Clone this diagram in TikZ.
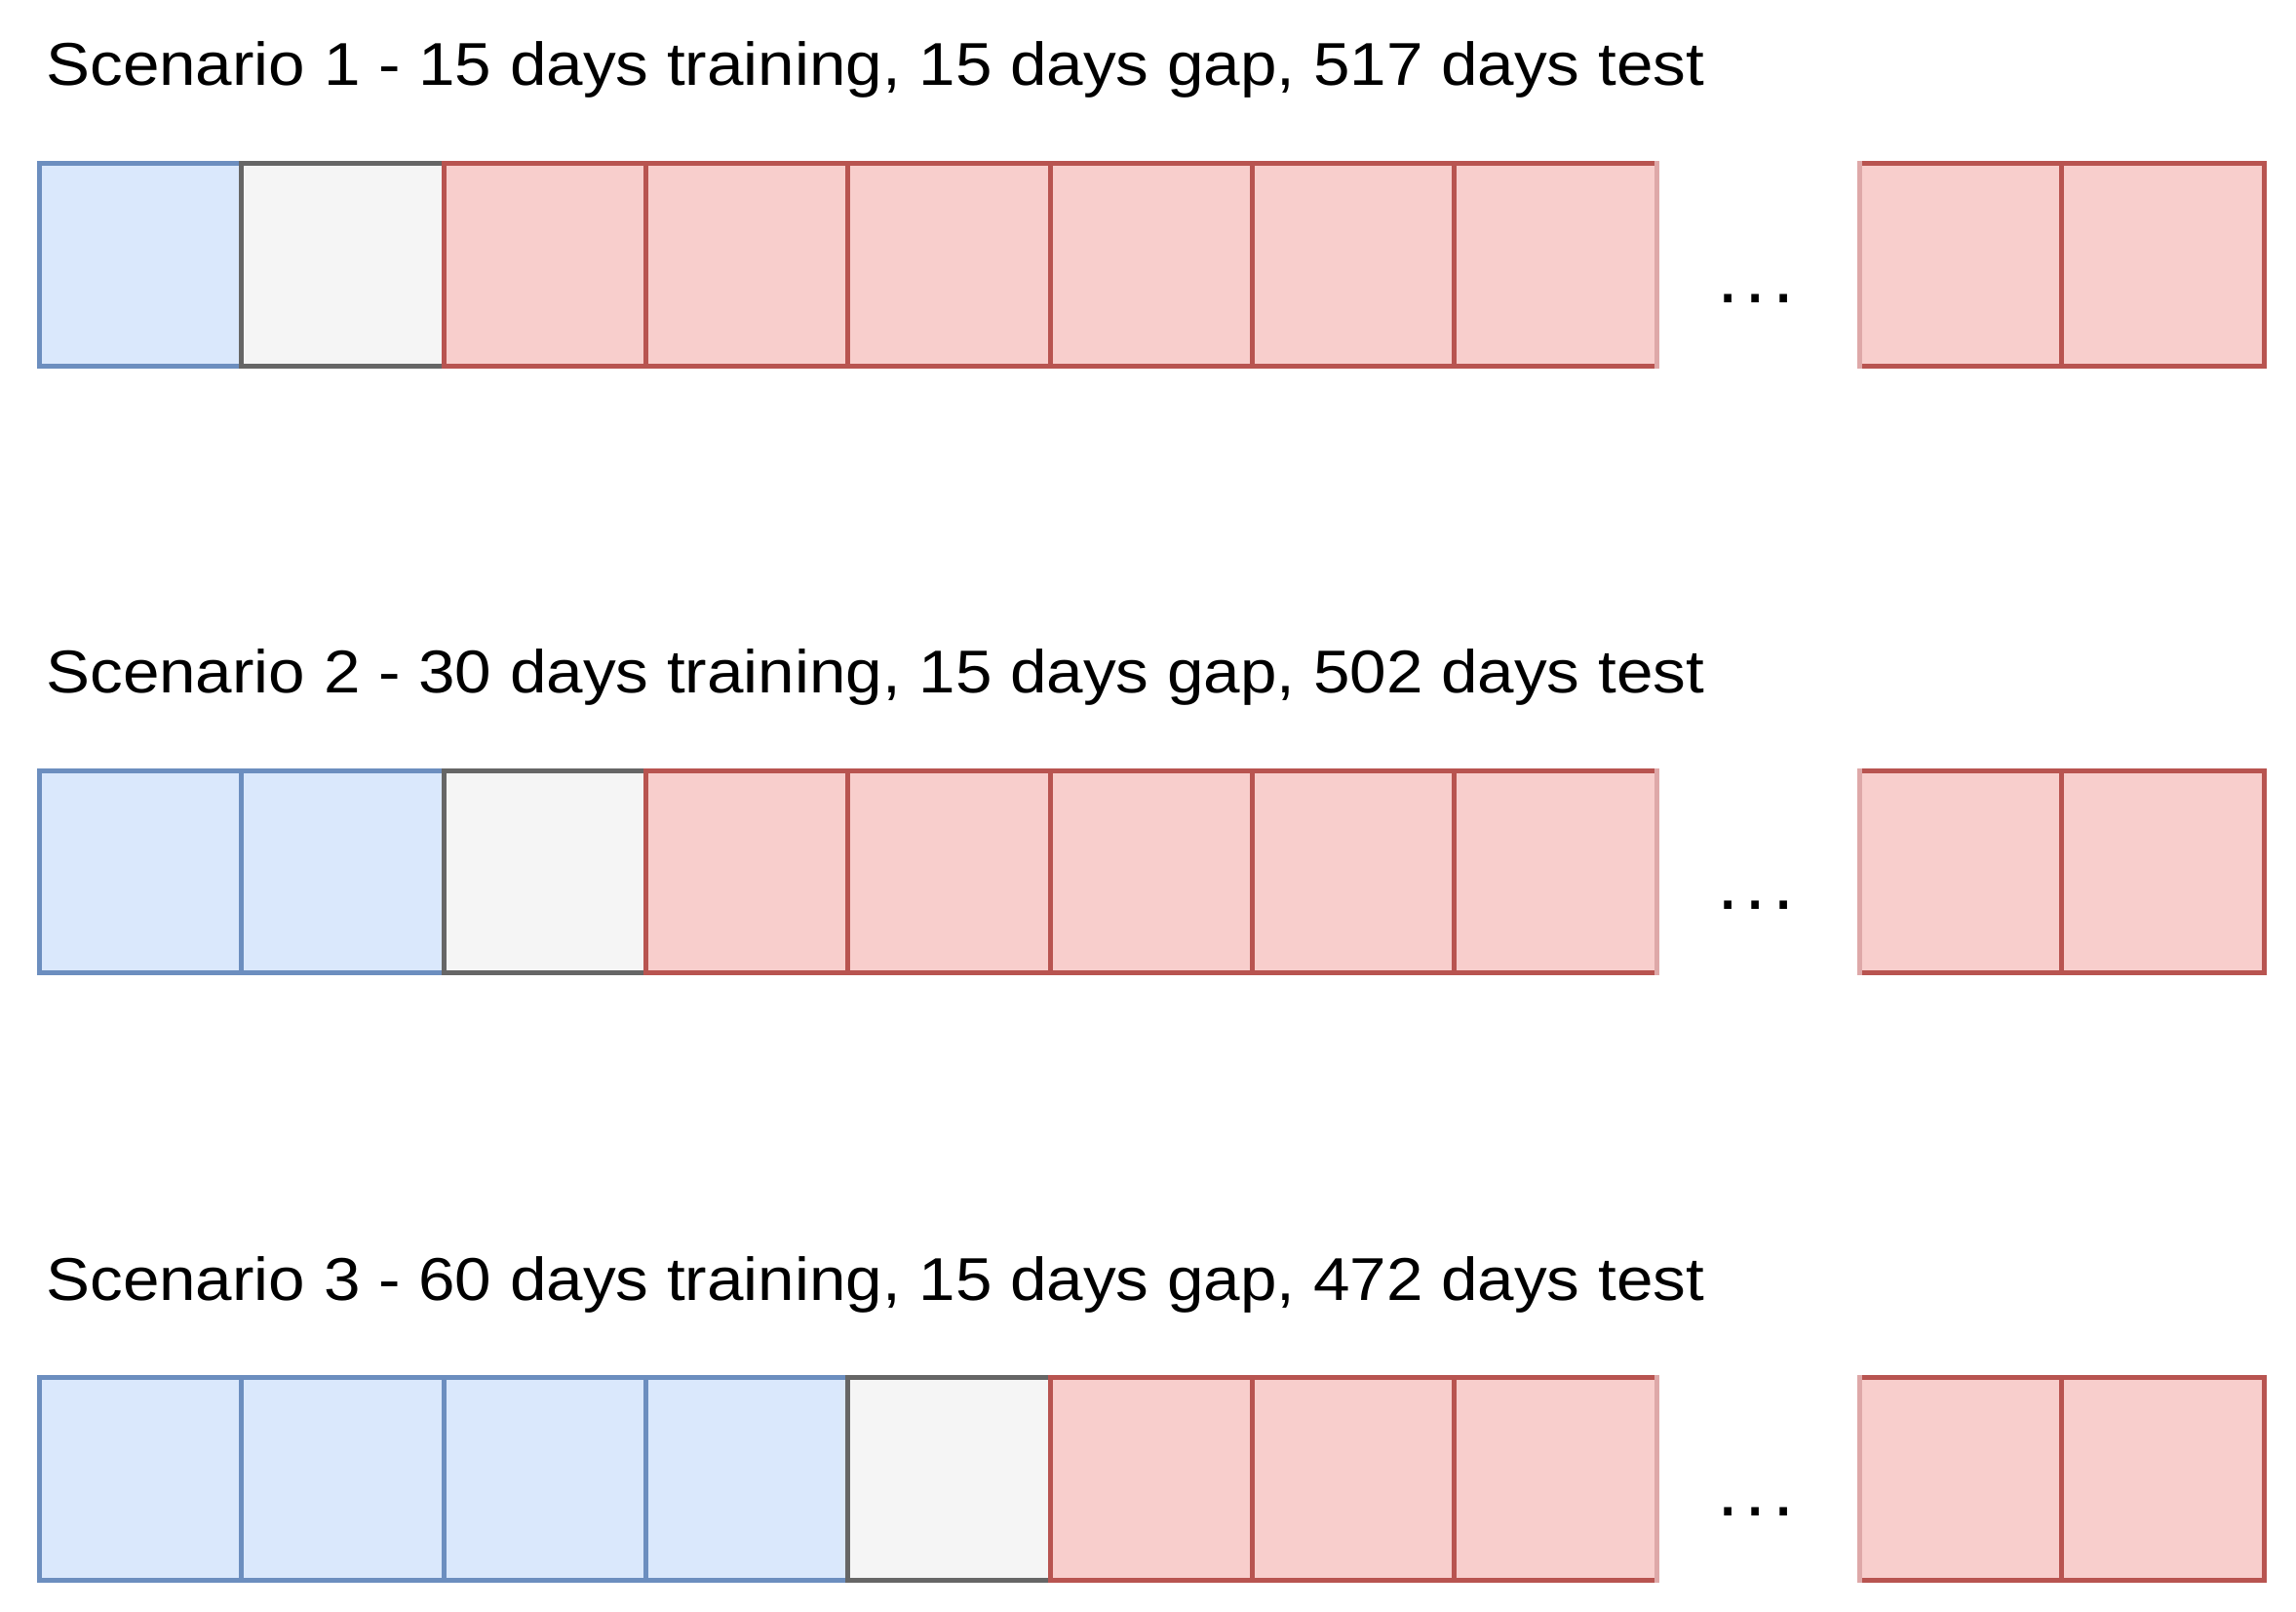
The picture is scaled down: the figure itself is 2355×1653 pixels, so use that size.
\documentclass[tikz,border=0pt]{standalone}
\usepackage{fontspec}
\setmainfont{Liberation Sans}
\newfontfamily\titlefont[FakeStretch=1.087]{Liberation Sans}
\definecolor{trainfill}{HTML}{DAE8FC}
\definecolor{trainline}{HTML}{6C8EBF}
\definecolor{gapfill}{HTML}{F5F5F5}
\definecolor{gapline}{HTML}{666666}
\definecolor{testfill}{HTML}{F8CECC}
\definecolor{testline}{HTML}{B85450}
\definecolor{testedge}{HTML}{DEA8A8}
\begin{document}
\begin{tikzpicture}[x=0.5pt,y=-0.5pt,
  cell/.style={draw, line width=2.5pt, minimum width=103.7pt, minimum height=103.9pt, inner sep=0pt, outer sep=0pt},
  train/.style={cell, fill=trainfill, draw=trainline},
  gap/.style={cell, fill=gapfill, draw=gapline},
  test/.style={cell, fill=testfill, draw=testline},
  softedge/.style={draw=testedge, line width=2.5pt, line cap=rect},
  title/.style={anchor=base west, font=\titlefont\fontsize{31}{37}\selectfont, inner sep=0pt},
  ellip/.style={anchor=base, font=\fontsize{40}{48}\selectfont, inner sep=0pt}]
\useasboundingbox (0,0) rectangle (2355,1653);
\node[title] (t1) at (47,88) {Scenario 1 - 15 days training, 15 days gap, 517 days test};
\node[title] (t2) at (47,710.5) {Scenario 2 - 30 days training, 15 days gap, 502 days test};
\node[title] (t3) at (47,1333) {Scenario 3 - 60 days training, 15 days gap, 472 days test};
\foreach \row/\y/\types in {1/271.6/{train,gap,test,test,test,test,test,test},
                            2/893.9/{train,train,gap,test,test,test,test,test},
                            3/1516.2/{train,train,train,train,gap,test,test,test}} {
  \foreach \st [count=\i] in \types {
    \node[\st] (r\row c\i) at ({40.5+207.35*(\i-0.5)},\y) {};
  }
  \node[test] (r\row c9) at (2011.2,\y) {};
  \node[test] (r\row c10) at (2218.5,\y) {};
  \draw[softedge] (r\row c8.north east) -- (r\row c8.south east);
  \draw[softedge] (r\row c9.north west) -- (r\row c9.south west);
  \node[ellip] (d\row) at (1801,\y+38.5) {.\hspace{3.2pt}.\hspace{3.2pt}.};
}
\end{tikzpicture}
\end{document}
